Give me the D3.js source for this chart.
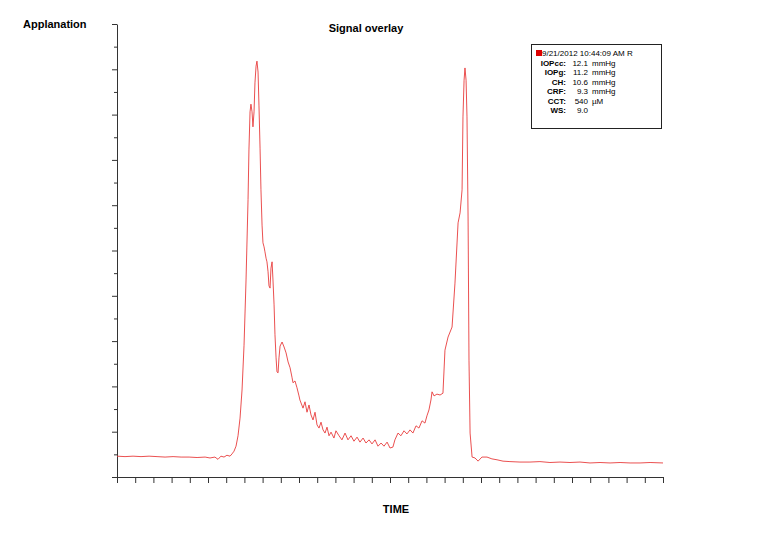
<!DOCTYPE html>
<html>
<head>
<meta charset="utf-8">
<script src="https://cdn.jsdelivr.net/npm/d3@7"></script>
<style>
  body { margin: 0; background: white; }
  #myPlot { width: 758px; height: 533px; }
  text { font-family: "Liberation Sans", Arial, sans-serif; }
</style>
</head>
<body>
<div id="myPlot"></div>
<script>
// signal samples: time (arbitrary units, 0..300) and applanation (0..100)
const times = [
  0, 4.4, 8.8, 13.2, 17.6, 22.0, 26.4, 30.8, 35.2, 39.6, 44.0, 48.4, 51.1, 53.8, 55.5, 57.1,
  58.8, 60.4, 62.1, 63.2, 64.3, 65.4, 66.5, 67.6, 68.7, 69.8, 70.9, 72.0, 72.5, 73.1, 73.6,
  74.2, 74.7, 75.3, 75.8, 76.4, 76.9, 77.5, 78.0, 78.6, 79.1, 79.7, 80.2, 80.8, 81.3, 81.9,
  82.4, 83.0, 83.5, 84.1, 84.6, 85.2, 85.7, 86.3, 86.8, 87.4, 87.9, 88.5, 89.0, 89.6, 90.7,
  91.8, 92.9, 94.0, 95.1, 96.2, 96.7, 97.8, 98.9, 100.0, 100.5, 102.2, 103.3, 104.4, 105.5,
  106.6, 107.7, 108.8, 109.9, 111.0, 112.1, 113.2, 114.3, 115.4, 116.5, 117.6, 119.2, 120.3,
  122.0, 123.6, 125.3, 126.9, 128.6, 130.2, 131.9, 133.5, 135.2, 136.8, 138.5, 140.1, 141.8,
  143.4, 145.1, 146.7, 148.4, 150.0, 151.6, 152.7, 154.4, 156.0, 157.7, 159.3, 161.0, 162.6,
  164.3, 165.9, 167.6, 169.2, 170.3, 171.4, 172.5, 173.1, 174.2, 175.8, 177.5, 179.1, 180.2,
  181.9, 184.1, 185.7, 187.4, 188.5, 189.6, 190.1, 190.7, 191.2, 191.8, 192.3, 192.9, 193.4,
  194.0, 195.1, 196.7, 198.4, 200.5, 203.3, 206.0, 208.8, 212.1, 215.9, 221.4, 226.9, 232.4,
  237.9, 243.4, 248.9, 254.4, 259.9, 265.4, 270.9, 276.4, 281.9, 287.4, 292.9, 300.0
]
const applanation = [
  4.6, 4.5, 4.6, 4.5, 4.6, 4.5, 4.4, 4.5, 4.4, 4.4, 4.3, 4.4, 4.2, 4.4, 3.9, 4.6,
  4.4, 4.8, 4.6, 5.1, 5.7, 6.8, 9.1, 13.0, 19.2, 29.1, 43.5, 61.2, 72.2, 80.6, 82.3,
  80.6, 77.3, 80.6, 87.0, 90.7, 91.8, 89.4, 82.1, 72.6, 63.4, 55.6, 51.7, 50.8, 49.7, 48.3,
  47.5, 45.3, 42.2, 41.7, 46.1, 47.5, 43.5, 38.0, 31.4, 26.3, 23.2, 23.0, 26.3, 28.9, 29.8,
  28.7, 27.4, 25.4, 24.1, 21.9, 20.8, 21.2, 19.7, 17.9, 17.0, 15.2, 16.6, 14.3, 15.9,
  13.7, 12.6, 14.3, 11.5, 10.8, 12.1, 10.4, 9.7, 11.0, 9.1, 9.9, 8.6, 10.2,
  9.1, 8.2, 9.7, 8.2, 9.1, 7.9, 8.8, 7.7, 8.6, 7.5, 8.2, 7.3, 8.2,
  6.8, 7.5, 6.8, 7.7, 6.4, 6.6, 8.2, 9.7, 9.1, 10.2, 9.5, 10.4, 9.7,
  11.3, 10.8, 12.4, 11.9, 13.5, 14.8, 17.0, 18.8, 17.9, 18.3, 18.1, 18.5, 28.0,
  30.9, 33.1, 42.8, 56.1, 58.3, 63.4, 79.5, 87.6, 90.3, 87.6, 79.5, 57.4, 25.8,
  9.7, 4.4, 4.2, 3.5, 4.4, 4.4, 4.0, 3.8, 3.5, 3.4, 3.3, 3.3, 3.4,
  3.2, 3.3, 3.2, 3.3, 3.1, 3.2, 3.1, 3.2, 3.1, 3.1, 3.2, 3.1
]

const xMajorTicks = d3.range(0, 301, 10)
const yMajorTicks = d3.range(0, 101, 10)
const yMinorTicks = d3.range(5, 100, 10)

const legendHeader = "9/21/2012 10:44:09 AM R"
const legendLabels = ["IOPcc:", "IOPg:", "CH:", "CRF:", "CCT:", "WS:"]
const legendValues = ["12.1", "11.2", "10.6", "9.3", "540", "9.0"]
const legendUnits = ["mmHg", "mmHg", "mmHg", "mmHg", "µM", ""]

const rootSelector = "#myPlot"
const clientWidth = 758
const clientHeight = 533
const margin = {top: 24, right: 95, bottom: 56, left: 117}
const width = clientWidth - margin.left - margin.right
const height = clientHeight - margin.top - margin.bottom

const svg = d3.select(rootSelector).append("svg")
    .attr("width", clientWidth)
    .attr("height", clientHeight)

const g = svg.append("g")
    .attr("transform", `translate(${margin.left}, ${margin.top})`)

const xScale = d3.scaleLinear().domain([0, 300]).range([0, width])
const yScale = d3.scaleLinear().domain([0, 100]).range([height, 0])

const axisColor = "#333"

g.append("g")
    .attr("class", "x axis")
    .attr("transform", `translate(0, ${height})`)
    .call(d3.axisBottom(xScale).tickValues(xMajorTicks).tickSize(6).tickSizeOuter(0).tickFormat(""))

g.append("g")
    .attr("class", "y axis")
    .call(d3.axisLeft(yScale).tickValues(yMajorTicks).tickSize(5).tickSizeOuter(0).tickFormat(""))

g.append("g")
    .attr("class", "y axis minor")
    .call(d3.axisLeft(yScale).tickValues(yMinorTicks).tickSize(3).tickFormat(""))
    .call(a => a.select(".domain").remove())

g.selectAll(".axis path, .axis line").attr("stroke", axisColor)

const points = times.map((t, i) => [t, applanation[i]])

g.append("path")
    .datum(points)
    .attr("fill", "none")
    .attr("stroke", "#e83c3c")
    .attr("stroke-width", 0.9)
    .attr("d", d3.line().x(d => xScale(d[0])).y(d => yScale(d[1])))

// titles
svg.append("text")
    .attr("x", 23).attr("y", 28)
    .attr("font-size", 11).attr("font-weight", "bold")
    .text("Applanation")

svg.append("text")
    .attr("x", 366).attr("y", 32)
    .attr("text-anchor", "middle")
    .attr("font-size", 11).attr("font-weight", "bold")
    .text("Signal overlay")

svg.append("text")
    .attr("x", 396).attr("y", 513)
    .attr("text-anchor", "middle")
    .attr("font-size", 11).attr("font-weight", "bold")
    .text("TIME")

// legend box
const legend = svg.append("g").attr("transform", "translate(531, 44)")

legend.append("rect")
    .attr("x", 0.5).attr("y", 0.5)
    .attr("width", 130).attr("height", 84)
    .attr("fill", "white")
    .attr("stroke", "#222")

legend.append("rect")
    .attr("x", 5).attr("y", 6)
    .attr("width", 6).attr("height", 6)
    .attr("fill", "#dd0000")

legend.append("text")
    .attr("x", 11).attr("y", 12)
    .attr("font-size", 8)
    .text(legendHeader)

const rows = legend.selectAll(".row")
    .data(legendLabels)
    .enter().append("g")
    .attr("class", "row")
    .attr("transform", (d, i) => `translate(0, ${22 + i * 9.4})`)

rows.append("text")
    .attr("x", 35).attr("text-anchor", "end")
    .attr("font-size", 8).attr("font-weight", "bold")
    .text(d => d)

rows.append("text")
    .attr("x", 57).attr("text-anchor", "end")
    .attr("font-size", 8)
    .text((d, i) => legendValues[i])

rows.append("text")
    .attr("x", 61)
    .attr("font-size", 8)
    .text((d, i) => legendUnits[i])
</script>
</body>
</html>
